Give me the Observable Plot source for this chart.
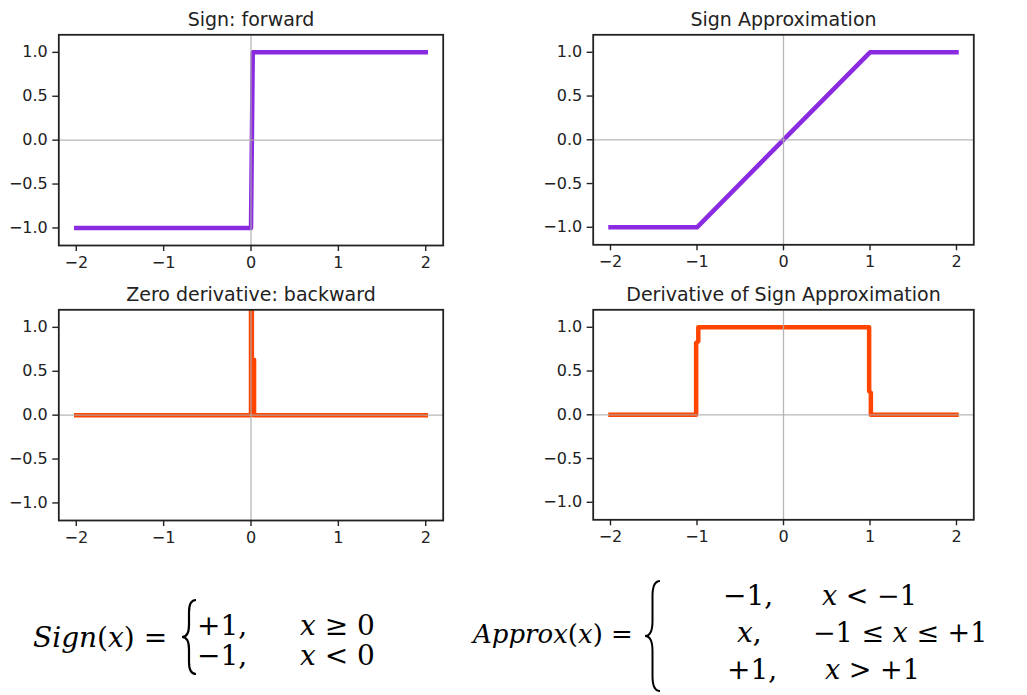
<!DOCTYPE html>
<html><head><meta charset="utf-8">
<script src="https://cdn.jsdelivr.net/npm/d3@7"></script>
<script src="https://cdn.jsdelivr.net/npm/@observablehq/plot@0.6"></script>
<style>
html,body{margin:0;padding:0;background:#fff;}
#root{position:relative;width:1027px;height:695px;overflow:hidden;font-family:"DejaVu Sans";background:#fff;}
.panel{position:absolute;}
#eq{position:absolute;left:0;top:0;}
</style></head><body><div id="root"></div>
<script>
// ---- data ----
const xTicks = [-2, -1, 0, 1, 2];
const yTicks = [-1, -0.5, 0, 0.5, 1];
const titles = ["Sign: forward", "Sign Approximation", "Zero derivative: backward", "Derivative of Sign Approximation"];
const signX = [-2, 0, 0.02, 2];
const signY = [-1, -1, 1, 1];
const approxX = [-2, -1, 1, 2];
const approxY = [-1, -1, 1, 1];
const zeroGradX = [-2, 0, 0, 0.01, 0.01, 0.035, 0.035, 2];
const zeroGradY = [0, 0, 1.5, 1.5, 0.63, 0.63, 0, 0];
const approxGradX = [-2, -1.01, -1.01, -0.985, -0.985, 0.99, 0.99, 1.01, 1.01, 2];
const approxGradY = [0, 0, 0.82, 0.84, 1, 1, 0.27, 0.25, 0, 0];
const purple = "blueviolet";
const orange = "orangered";

const panels = [
  {xs: signX, ys: signY, color: purple, title: titles[0], left: 0, top: 0, w: 460, h: 280, mt: 34.3, mb: 35, ml: 58.3, mr: 17.3, tdy: -9},
  {xs: approxX, ys: approxY, color: purple, title: titles[1], left: 500, top: 0, w: 527, h: 280, mt: 34.3, mb: 35.7, ml: 92.7, mr: 53.7, tdy: -9},
  {xs: zeroGradX, ys: zeroGradY, color: orange, title: titles[2], left: 0, top: 280, w: 460, h: 280, mt: 29.3, mb: 40, ml: 58.3, mr: 17.3, tdy: -9.3},
  {xs: approxGradX, ys: approxGradY, color: orange, title: titles[3], left: 500, top: 280, w: 527, h: 280, mt: 29.3, mb: 40.7, ml: 92.7, mr: 53.7, tdy: -9.3}
];

const root = document.getElementById("root");
const fmtY = d3.format(".1f");
const fmtX = d3.format("d");

for (const p of panels) {
  const data = p.xs.map((x, i) => ({x, y: p.ys[i]}));
  const chart = Plot.plot({
    width: p.w, height: p.h,
    marginTop: p.mt, marginBottom: p.mb, marginLeft: p.ml, marginRight: p.mr,
    style: {fontFamily: "DejaVu Sans", fontSize: "16px", color: "#222", background: "white", overflow: "visible"},
    x: {domain: [-2.2, 2.2]},
    y: {domain: [-1.2, 1.2]},
    marks: [
      Plot.line(data, {x: "x", y: "y", stroke: p.color, strokeWidth: 4.5, strokeLinecap: "square", strokeLinejoin: "round", clip: true}),
      Plot.ruleY([0], {stroke: "#aaaaaa", strokeWidth: 1.3, strokeOpacity: 0.85}),
      Plot.ruleX([0], {stroke: "#aaaaaa", strokeWidth: 1.3, strokeOpacity: 0.85}),
      Plot.frame({stroke: "#222", strokeWidth: 1.8}),
      Plot.axisX({ticks: xTicks, tickFormat: fmtX, tickSize: 6, tickPadding: 5, fontSize: 16, stroke: "#222", strokeWidth: 1.4, label: null}),
      Plot.axisY({ticks: yTicks, tickFormat: fmtY, tickSize: 6, tickPadding: 5, fontSize: 16, stroke: "#222", strokeWidth: 1.4, label: null}),
      Plot.text([p.title], {text: d => d, frameAnchor: "top", dy: p.tdy, lineAnchor: "bottom", fontSize: 19, fill: "#222"})
    ]
  });
  chart.classList.add("panel");
  chart.style.left = p.left + "px";
  chart.style.top = p.top + "px";
  root.appendChild(chart);
}

// ---- equations ----
const svg = d3.select(root).append("svg").attr("id", "eq").attr("width", 1027).attr("height", 695)
  .style("pointer-events", "none");
function brace(x, y0, y1, w, sw) {
  const m = (y0 + y1) / 2, r = Math.min(w, (y1 - y0) / 6);
  const xc = x + w / 2;
  const p = d3.path();
  p.moveTo(x + w, y0);
  p.quadraticCurveTo(xc, y0, xc, y0 + r);
  p.lineTo(xc, m - r);
  p.quadraticCurveTo(xc, m, x, m);
  p.quadraticCurveTo(xc, m, xc, m + r);
  p.lineTo(xc, y1 - r);
  p.quadraticCurveTo(xc, y1, x + w, y1);
  svg.append("path").attr("d", p.toString()).attr("fill", "none").attr("stroke", "#000").attr("stroke-width", sw);
}
function eqText(x, y, parts, fs = 28) {
  const t = svg.append("text").attr("x", x).attr("y", y).attr("font-family", "DejaVu Serif").attr("font-size", fs).attr("fill", "#000");
  for (const [s, it] of parts) t.append("tspan").attr("font-style", it ? "italic" : "normal").text(s);
}
// Sign(x)
eqText(33, 647, [["Sign", 1], ["(", 0], ["x", 1], [") =", 0]]);
brace(182, 600, 674, 14, 2.2);
eqText(197, 635, [["+1,", 0]]);
eqText(300, 635, [["x", 1], [" ≥ 0", 0]]);
eqText(197, 665, [["−1,", 0]]);
eqText(300, 665, [["x", 1], [" < 0", 0]]);
// Approx(x)
eqText(473, 643, [["Approx", 1], ["(", 0], ["x", 1], [") =", 0]], 26);
brace(645, 581, 691, 15, 2);
eqText(723, 605, [["−1,", 0]]);
eqText(822, 605, [["x", 1], [" < −1", 0]], 27);
eqText(737, 642, [["x", 1], [",", 0]]);
eqText(813, 642, [["−1 ≤ ", 0], ["x", 1], [" ≤ +1", 0]], 27);
eqText(727, 679, [["+1,", 0]]);
eqText(825, 679, [["x", 1], [" > +1", 0]], 27);
</script></body></html>
